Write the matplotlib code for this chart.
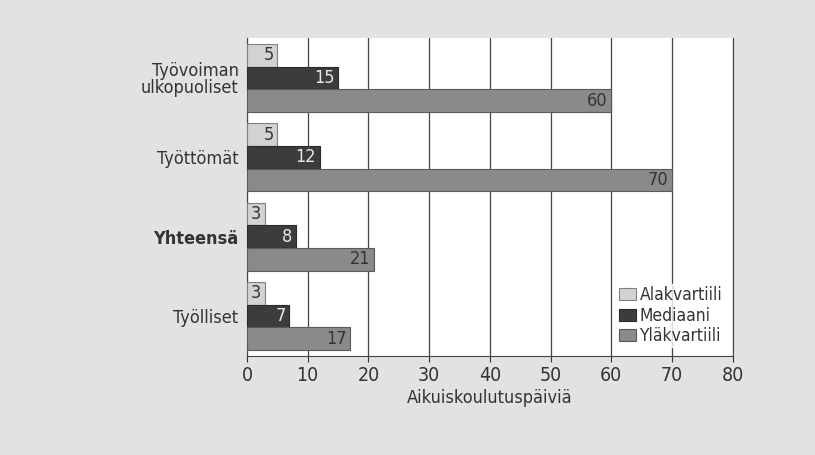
import matplotlib.pyplot as plt
import numpy as np

plt.rcParams['font.family'] = ['DejaVu Sans']
plt.rcParams['font.stretch'] = 'condensed'

groups = ['Työvoiman\nulkopuoliset', 'Työttömät', 'Yhteensä', 'Työlliset']
series = ['Alakvartiili', 'Mediaani', 'Yläkvartiili']
ala = [5, 5, 3, 3]
med = [15, 12, 8, 7]
yla = [60, 70, 21, 17]

fill = ['#d2d2d2', '#3c3c3c', '#8a8a8a']
edge = ['#808080', '#2a2a2a', '#5a5a5a']
txt = ['#333333', '#e8e8e8', '#333333']

fig = plt.figure(figsize=(8.15, 4.55), dpi=100)
fig.patch.set_facecolor('#e2e2e2')
ax = fig.add_axes([0.303, 0.218, 0.596, 0.698])

y = np.arange(len(groups))
h = 0.285
for i, vals in enumerate([ala, med, yla]):
    pos = y + (i - 1) * h
    bars = ax.barh(pos, vals, height=h, color=fill[i], edgecolor=edge[i],
                   linewidth=0.8, label=series[i], zorder=3)
    for b, v in zip(bars, vals):
        ax.text(v - 0.6, b.get_y() + b.get_height() / 2, str(v),
                ha='right', va='center', fontsize=13, color=txt[i], zorder=4)

ax.set_ylim(len(groups) - 0.5, -0.5)
ax.set_xlim(0, 80)
ax.set_xticks(range(0, 81, 10))
ax.set_yticks(y)
ax.set_yticklabels(groups, fontsize=13, color='#333333', linespacing=0.9)
ax.get_yticklabels()[2].set_fontweight('bold')
ax.tick_params(axis='x', labelsize=14, colors='#333333', length=4)
ax.tick_params(axis='y', length=0, pad=6)
ax.grid(axis='x', color='#444444', linewidth=0.9, zorder=0)
ax.spines['top'].set_visible(False)
for s in ['left', 'bottom', 'right']:
    ax.spines[s].set_color('#444444')
ax.set_xlabel('Aikuiskoulutuspäiviä', fontsize=13, color='#333333', labelpad=3)

leg = ax.legend(loc='lower right', frameon=True, fontsize=12.5, handlelength=1.0,
                handleheight=0.7, handletextpad=0.2, labelspacing=0.15,
                borderaxespad=0.5, borderpad=0.1)
leg.get_frame().set_facecolor('white')
leg.get_frame().set_edgecolor('white')
leg.set_zorder(5)
for t in leg.get_texts():
    t.set_color('#333333')

fig.savefig('out.png', dpi=100, facecolor=fig.get_facecolor())
